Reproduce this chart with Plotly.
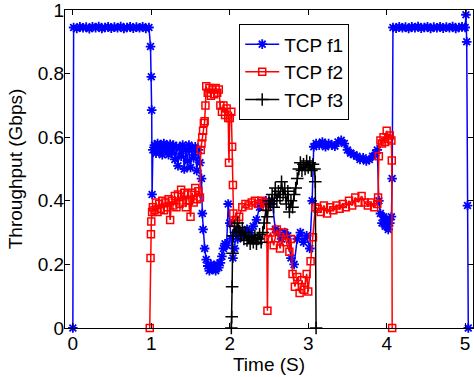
import plotly.graph_objects as go

# ---------------- data ----------------
f1_t = [0.00, 0.01, 0.05, 0.09, 0.13, 0.17, 0.21, 0.25, 0.29, 0.33, 0.37, 0.41, 0.45, 0.49,
        0.53, 0.57, 0.61, 0.65, 0.69, 0.73, 0.77, 0.81, 0.85, 0.89, 0.93, 0.97,
        0.99, 1.00, 1.005, 1.01, 1.02, 1.04, 1.06, 1.08, 1.10, 1.12, 1.14, 1.16, 1.18, 1.20,
        1.22, 1.24, 1.26, 1.28, 1.30, 1.32, 1.34, 1.36, 1.38, 1.40, 1.42, 1.44, 1.46, 1.48,
        1.50, 1.52, 1.54, 1.56, 1.58, 1.60, 1.62, 1.64, 1.65, 1.66, 1.68, 1.70, 1.72, 1.74,
        1.76, 1.78, 1.80, 1.82, 1.84, 1.86, 1.88, 1.90, 1.92, 1.94, 1.96, 1.98, 2.00, 2.02,
        2.04, 2.06, 2.08, 2.10, 2.14, 2.18, 2.22, 2.26, 2.30, 2.34, 2.38, 2.42, 2.46, 2.50,
        2.54, 2.58, 2.62, 2.66, 2.70, 2.74, 2.78, 2.82, 2.86, 2.90, 2.94, 2.98, 3.02, 3.05,
        3.07, 3.10, 3.14, 3.18, 3.22, 3.26, 3.30, 3.34, 3.38, 3.42, 3.46, 3.50, 3.54, 3.58,
        3.62, 3.66, 3.70, 3.74, 3.78, 3.82, 3.86, 3.88, 3.90, 3.92, 3.94, 3.96, 3.98, 4.00,
        4.02, 4.04, 4.06, 4.07, 4.08, 4.12, 4.16, 4.20, 4.24, 4.28, 4.32, 4.36, 4.40, 4.44,
        4.48, 4.52, 4.56, 4.60, 4.64, 4.68, 4.72, 4.76, 4.80, 4.84, 4.88, 4.92, 4.96, 5.00,
        5.01, 5.02, 5.03, 5.04]
f1_v = [0.000, 0.945, 0.942, 0.947, 0.944, 0.946, 0.941, 0.947, 0.944, 0.948, 0.942, 0.945, 0.947, 0.943,
        0.946, 0.944, 0.948, 0.942, 0.945, 0.947, 0.943, 0.946, 0.944, 0.947, 0.942, 0.945,
        0.885, 0.790, 0.685, 0.420, 0.560, 0.575, 0.550, 0.580, 0.555, 0.575, 0.545, 0.580, 0.560, 0.570,
        0.545, 0.578, 0.552, 0.575, 0.530, 0.570, 0.510, 0.565, 0.540, 0.575, 0.500, 0.560, 0.525, 0.575,
        0.505, 0.560, 0.535, 0.570, 0.495, 0.560, 0.520, 0.470, 0.360, 0.310, 0.250, 0.215, 0.195, 0.180,
        0.200, 0.185, 0.195, 0.180, 0.200, 0.190, 0.205, 0.225, 0.250, 0.265, 0.260, 0.390, 0.330, 0.280,
        0.220, 0.250, 0.300, 0.280, 0.300, 0.290, 0.310, 0.300, 0.320, 0.340, 0.380, 0.395, 0.400, 0.390,
        0.400, 0.310, 0.300, 0.280, 0.300, 0.290, 0.220, 0.200, 0.280, 0.300, 0.270, 0.290, 0.250, 0.400,
        0.570, 0.580, 0.575, 0.585, 0.570, 0.580, 0.575, 0.572, 0.585, 0.590, 0.580, 0.560, 0.550, 0.545,
        0.540, 0.530, 0.535, 0.525, 0.530, 0.540, 0.550, 0.560, 0.400, 0.360, 0.330, 0.350, 0.320, 0.340,
        0.310, 0.330, 0.350, 0.470, 0.945, 0.943, 0.947, 0.944, 0.946, 0.942, 0.947, 0.944, 0.948, 0.943,
        0.945, 0.947, 0.942, 0.946, 0.944, 0.947, 0.943, 0.946, 0.944, 0.948, 0.942, 0.945, 0.947, 0.945,
        0.985, 0.900, 0.385, 0.000]

f2_t = [0.98, 0.99, 0.995, 1.00, 1.01, 1.02, 1.04, 1.06, 1.08, 1.10, 1.12, 1.14, 1.16, 1.18, 1.20,
        1.22, 1.24, 1.26, 1.28, 1.30, 1.32, 1.34, 1.36, 1.38, 1.40, 1.42, 1.44, 1.46, 1.48, 1.50,
        1.52, 1.54, 1.56, 1.58, 1.60, 1.62, 1.63, 1.64, 1.65, 1.66, 1.67, 1.68, 1.69, 1.70, 1.72,
        1.74, 1.76, 1.78, 1.80, 1.82, 1.84, 1.86, 1.88, 1.90, 1.92, 1.94, 1.96, 1.98, 1.99, 2.00,
        2.02, 2.03, 2.04, 2.045, 2.05, 2.08, 2.12, 2.16, 2.20, 2.24, 2.28, 2.32, 2.36, 2.40, 2.44,
        2.47, 2.48, 2.49, 2.52, 2.56, 2.60, 2.64, 2.68, 2.72, 2.76, 2.78, 2.80, 2.83, 2.86, 2.89,
        2.92, 2.95, 2.98, 3.00, 3.03, 3.06, 3.09, 3.12, 3.16, 3.20, 3.24, 3.28, 3.32, 3.36, 3.40,
        3.44, 3.48, 3.52, 3.56, 3.60, 3.64, 3.68, 3.72, 3.76, 3.80, 3.84, 3.88, 3.89, 3.90, 3.92,
        3.94, 3.96, 3.98, 4.00, 4.02, 4.04, 4.06, 4.065, 4.07]
f2_v = [0.000, 0.220, 0.295, 0.335, 0.365, 0.380, 0.370, 0.395, 0.365, 0.390, 0.375, 0.400, 0.370, 0.395, 0.380,
        0.405, 0.340, 0.400, 0.385, 0.415, 0.380, 0.420, 0.390, 0.435, 0.395, 0.425, 0.380, 0.420, 0.400, 0.350,
        0.425, 0.395, 0.440, 0.405, 0.430, 0.410, 0.560, 0.580, 0.600, 0.620, 0.645, 0.650, 0.700, 0.760, 0.740,
        0.755, 0.730, 0.750, 0.735, 0.755, 0.740, 0.750, 0.700, 0.680, 0.700, 0.670, 0.690, 0.660, 0.520, 0.660,
        0.680, 0.570, 0.450, 0.360, 0.330, 0.340, 0.350, 0.380, 0.390, 0.385, 0.395, 0.400, 0.390, 0.400, 0.395,
        0.380, 0.054, 0.280, 0.300, 0.260, 0.310, 0.250, 0.300, 0.270, 0.240, 0.280, 0.170, 0.130, 0.160, 0.110,
        0.150, 0.120, 0.170, 0.115, 0.210, 0.285, 0.380, 0.375, 0.365, 0.385, 0.360, 0.380, 0.370, 0.385, 0.375,
        0.390, 0.380, 0.400, 0.385, 0.410, 0.395, 0.415, 0.395, 0.385, 0.395, 0.380, 0.390, 0.410, 0.540, 0.590,
        0.580, 0.600, 0.585, 0.620, 0.595, 0.605, 0.590, 0.527, 0.000]

f3_t = [2.02, 2.025, 2.03, 2.035, 2.04, 2.06, 2.08, 2.10, 2.12, 2.14, 2.16, 2.18, 2.20, 2.22, 2.24,
        2.26, 2.28, 2.30, 2.32, 2.34, 2.36, 2.38, 2.40, 2.42, 2.44, 2.46, 2.48, 2.50, 2.52, 2.54,
        2.56, 2.58, 2.60, 2.62, 2.64, 2.66, 2.68, 2.70, 2.72, 2.74, 2.76, 2.78, 2.80, 2.82, 2.84,
        2.86, 2.88, 2.90, 2.92, 2.94, 2.96, 2.98, 3.00, 3.02, 3.04, 3.06, 3.08, 3.09, 3.10]
f3_v = [0.000, 0.035, 0.130, 0.235, 0.290, 0.320, 0.300, 0.330, 0.305, 0.290, 0.315, 0.280, 0.300, 0.275, 0.290,
        0.265, 0.285, 0.270, 0.290, 0.265, 0.280, 0.295, 0.270, 0.300, 0.330, 0.370, 0.350, 0.400, 0.390, 0.420,
        0.380, 0.440, 0.400, 0.430, 0.410, 0.460, 0.420, 0.440, 0.390, 0.430, 0.365, 0.400, 0.380, 0.420, 0.440,
        0.470, 0.500, 0.520, 0.495, 0.515, 0.500, 0.525, 0.505, 0.520, 0.495, 0.515, 0.500, 0.460, 0.000]

series_names = ["TCP f1", "TCP f2", "TCP f3"]
x_ticks = [0, 1, 2, 3, 4, 5]
y_ticks = [0, 0.2, 0.4, 0.6, 0.8, 1]

# ---------------- figure ----------------
FONT = "Liberation Sans, Arial, Helvetica, sans-serif"
fig = go.Figure()

styles = [
    (f1_t, f1_v, "#0000ff", "asterisk-open", 8, 1.8),
    (f2_t, f2_v, "#ff0000", "square-open", 7, 1.5),
    (f3_t, f3_v, "#000000", "cross-thin-open", 9, 1.5),
]
for (t, v, col, sym, sz, mw), name in zip(styles, series_names):
    fig.add_trace(go.Scatter(
        x=t, y=v, mode="lines+markers", name=name,
        line=dict(color=col, width=1.5),
        marker=dict(symbol=sym, size=sz, color=col, line=dict(color=col, width=mw)),
        cliponaxis=False,
    ))

axis_common = dict(
    showgrid=False, zeroline=False, showline=True, linecolor="black", linewidth=1,
    mirror="ticks", ticks="inside", ticklen=5, tickcolor="black", tickwidth=1,
    tickfont=dict(family=FONT, size=19, color="black"),
    ticklabeloverflow="allow",
)
fig.update_xaxes(range=[-0.1, 5.1], tickvals=x_ticks, ticklabelstandoff=-2,
                 title=dict(text="Time (S)", font=dict(family=FONT, size=19, color="black"), standoff=4),
                 **axis_common)
fig.update_yaxes(range=[0, 1], tickvals=y_ticks, ticklabelstandoff=-4,
                 title=dict(text="Throughput (Gbps)", font=dict(family=FONT, size=19, color="black"), standoff=10),
                 **axis_common)

fig.update_layout(
    width=474, height=377,
    margin=dict(l=65, r=1, t=10, b=49),
    paper_bgcolor="white", plot_bgcolor="white",
    font=dict(family=FONT, size=19, color="black"),
    legend=dict(x=0.427, y=0.955, xanchor="left", yanchor="top",
                bgcolor="white", bordercolor="black", borderwidth=1,
                font=dict(family=FONT, size=19, color="black"),
                tracegroupgap=0, itemwidth=34),
    showlegend=True,
)

fig.write_html("out.html")
